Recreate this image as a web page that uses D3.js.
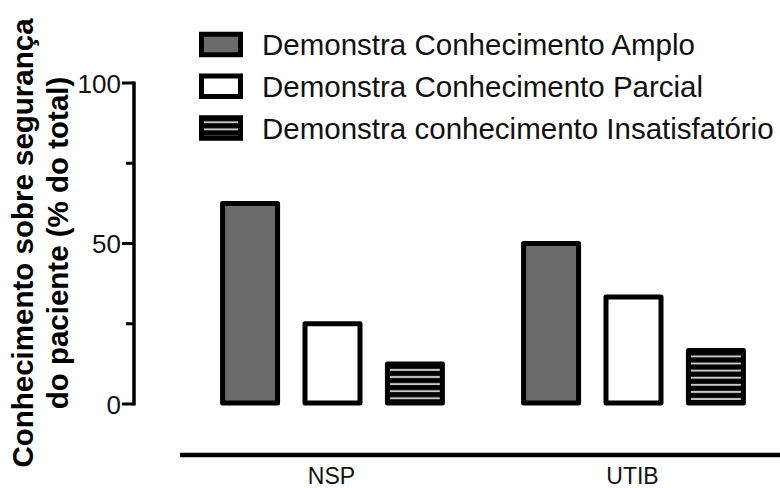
<!DOCTYPE html>
<html>
<head>
<meta charset="utf-8">
<script src="https://cdn.jsdelivr.net/npm/d3@7/dist/d3.min.js"></script>
<style>
  html, body { margin: 0; padding: 0; background: #fff; }
  svg { display: block; font-family: "Liberation Sans", Arial, Helvetica, sans-serif; }
</style>
</head>
<body>
<svg id="chart" width="780" height="488"></svg>
<script>
// Knowledge groups on the x axis
const categories = ["NSP", "UTIB"];
// Series (legend order) and their values, % of total
const seriesNames = [
  "Demonstra Conhecimento Amplo",
  "Demonstra Conhecimento Parcial",
  "Demonstra conhecimento Insatisfatório"
];
const amplo = [62.5, 50];
const parcial = [25, 33.3];
const insatisfatorio = [12.5, 16.7];
const yTicks = [0, 50, 100];
const yMinorTicks = [25, 75];
const yTitleLines = ["Conhecimento sobre segurança", "do paciente (% do total)"];

const seriesValues = [amplo, parcial, insatisfatorio];
const seriesKeys = ["amplo", "parcial", "insat"];

const svg = d3.select("#chart");
const defs = svg.append("defs");

const y = d3.scaleLinear().domain([0, 100]).range([404, 83]);
const x0 = d3.scaleBand().domain(categories).range([182, 784]).padding(0);
const x1 = d3.scaleBand().domain(seriesKeys).range([0, x0.bandwidth()])
  .paddingInner(0.272).paddingOuter(0.462);

const SW = 5; // bar outline width

// horizontal-stripe texture: black ground with light lines
function stripePattern(id, top) {
  const p = defs.append("pattern")
    .attr("id", id)
    .attr("patternUnits", "userSpaceOnUse")
    .attr("width", 20).attr("height", 7.1)
    .attr("y", top);
  p.append("rect").attr("width", 20).attr("height", 7.1).attr("fill", "#000");
  p.append("rect").attr("y", 2.5).attr("width", 20).attr("height", 2).attr("fill", "#c8c8c8");
  return `url(#${id})`;
}

const fills = { amplo: "#6b6b6b", parcial: "#ffffff" };

// bars
const groups = svg.append("g").selectAll("g")
  .data(categories).join("g")
  .attr("transform", d => `translate(${x0(d)},0)`);

groups.each(function (cat, ci) {
  const g = d3.select(this);
  seriesKeys.forEach((key, si) => {
    const v = seriesValues[si][ci];
    const bx = x1(key) + SW / 2;
    const bw = x1.bandwidth() - SW;
    const by = y(v);
    const bh = y(0) - y(v) - 1;
    if (key === "insat") {
      g.append("rect")
        .attr("x", bx).attr("y", by).attr("width", bw).attr("height", bh)
        .attr("fill", "#000");
      g.append("rect")
        .attr("x", bx + SW / 2).attr("y", by + SW / 2)
        .attr("width", bw - SW).attr("height", bh - SW)
        .attr("fill", stripePattern(`stripe-${ci}`, by + SW / 2));
      g.append("rect")
        .attr("x", bx).attr("y", by).attr("width", bw).attr("height", bh)
        .attr("fill", "none").attr("stroke", "#000")
        .attr("stroke-width", SW).attr("stroke-linejoin", "round");
    } else {
      g.append("rect")
        .attr("x", bx).attr("y", by).attr("width", bw).attr("height", bh)
        .attr("fill", fills[key]).attr("stroke", "#000")
        .attr("stroke-width", SW).attr("stroke-linejoin", "round");
    }
  });
});

// y axis
const yAxisG = svg.append("g").attr("transform", "translate(134,0)");
yAxisG.append("line")
  .attr("x1", 0).attr("x2", 0).attr("y1", y(100) - 1.5).attr("y2", y(0) + 1.5)
  .attr("stroke", "#000").attr("stroke-width", 3.5);
yAxisG.selectAll(".major").data(yTicks).join("line")
  .attr("x1", -12).attr("x2", 0).attr("y1", d => y(d)).attr("y2", d => y(d))
  .attr("stroke", "#000").attr("stroke-width", 3);
yAxisG.selectAll(".minor").data(yMinorTicks).join("line")
  .attr("x1", -8).attr("x2", 0).attr("y1", d => y(d)).attr("y2", d => y(d))
  .attr("stroke", "#000").attr("stroke-width", 3);
yAxisG.selectAll("text").data(yTicks).join("text")
  .attr("x", -13).attr("y", d => y(d) + 9.5)
  .attr("text-anchor", "end")
  .attr("font-size", 26)
  .attr("fill", "#111")
  .text(d => d);

// y axis title
svg.append("g").selectAll("text").data(yTitleLines).join("text")
  .attr("transform", (d, i) => `translate(${33 + i * 35},243) rotate(-90)`)
  .attr("text-anchor", "middle")
  .attr("font-size", 29.5)
  .attr("font-weight", "bold")
  .attr("fill", "#000")
  .text(d => d);

// x axis
svg.append("line")
  .attr("x1", 180).attr("x2", 780).attr("y1", 455).attr("y2", 455)
  .attr("stroke", "#000").attr("stroke-width", 4.5);
svg.append("g").selectAll("text").data(categories).join("text")
  .attr("x", d => x0(d) + x0.bandwidth() / 2 - 1)
  .attr("y", 484)
  .attr("text-anchor", "middle")
  .attr("font-size", 23)
  .attr("fill", "#111")
  .text(d => d);

// legend
const ly = d3.scalePoint().domain(seriesKeys).range([44.5, 128]);
const legend = svg.append("g");
seriesKeys.forEach((key, i) => {
  const cy = ly(key);
  const sx = 201.5, sw = 39, sh = 20.5;
  if (key === "insat") {
    legend.append("rect").attr("x", sx).attr("y", cy - sh / 2).attr("width", sw).attr("height", sh).attr("fill", "#000");
    legend.append("rect")
      .attr("x", sx + SW / 2).attr("y", cy - sh / 2 + SW / 2)
      .attr("width", sw - SW).attr("height", sh - SW)
      .attr("fill", stripePattern("stripe-legend", cy - sh / 2 + SW / 2 - 1.5));
    legend.append("rect").attr("x", sx).attr("y", cy - sh / 2).attr("width", sw).attr("height", sh)
      .attr("fill", "none").attr("stroke", "#000").attr("stroke-width", SW);
  } else {
    legend.append("rect").attr("x", sx).attr("y", cy - sh / 2).attr("width", sw).attr("height", sh)
      .attr("fill", fills[key]).attr("stroke", "#000").attr("stroke-width", SW);
  }
  legend.append("text")
    .attr("x", 262).attr("y", cy + 10.5)
    .attr("font-size", 29.5)
    .attr("fill", "#111")
    .text(seriesNames[i]);
});
</script>
</body>
</html>
